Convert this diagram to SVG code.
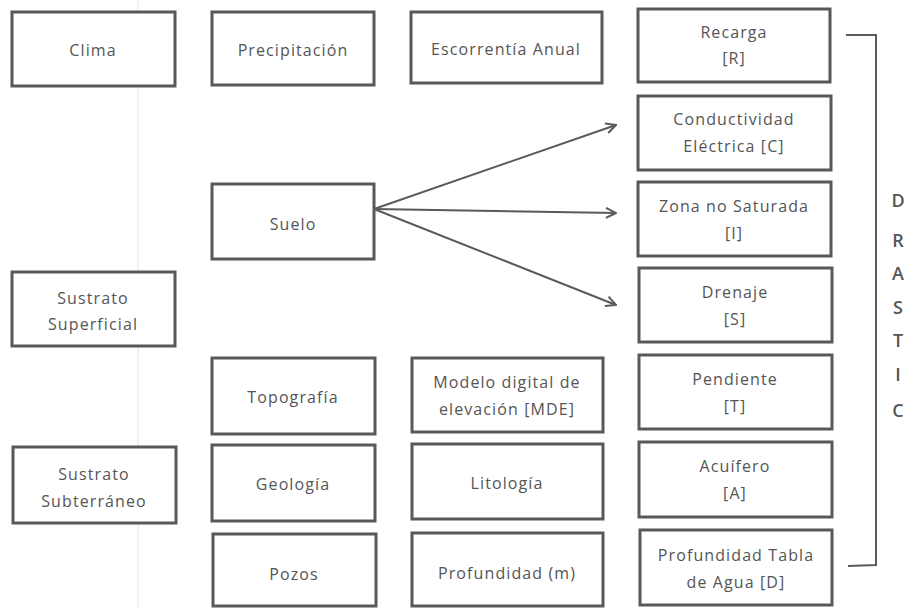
<svg xmlns="http://www.w3.org/2000/svg" width="913" height="608" viewBox="0 0 913 608">
<defs>
<style>
.box{fill:#fff;stroke:#585858;stroke-width:3}
.t{font-family:"Open Sans","Noto Sans",sans-serif;font-size:16px;fill:#555;text-anchor:middle;letter-spacing:1.1px}
.l{font-family:"Open Sans","Noto Sans",sans-serif;font-size:18px;font-weight:600;fill:#555;text-anchor:middle}
.c{fill:none;stroke:#5a5a5a;stroke-width:2}
</style>
<marker id="arr" viewBox="0 0 12 12" refX="11" refY="6" markerWidth="12" markerHeight="12" markerUnits="userSpaceOnUse" orient="auto">
<path d="M1,1 L11,6 L1,11" fill="none" stroke="#5a5a5a" stroke-width="2"/>
</marker>
</defs>
<rect width="913" height="608" fill="#fff"/>
<line x1="138" y1="0" x2="138" y2="608" stroke="#e2e2e2" stroke-width="1"/>
<g id="clima"><rect class="box" x="12" y="12" width="163" height="74"/><text class="t" x="93" y="56">Clima</text></g>
<g id="precipitacion"><rect class="box" x="212" y="12" width="162" height="73"/><text class="t" x="293" y="56">Precipitación</text></g>
<g id="escorrentia"><rect class="box" x="411" y="12" width="191" height="71"/><text class="t" x="506" y="55">Escorrentía Anual</text></g>
<g id="recarga"><rect class="box" x="638" y="9" width="192" height="73"/><text class="t" x="734" y="38">Recarga</text><text class="t" x="734" y="64">[R]</text></g>
<g id="conductividad"><rect class="box" x="638" y="96" width="193" height="74"/><text class="t" x="734" y="125">Conductividad</text><text class="t" x="734" y="152">Eléctrica [C]</text></g>
<g id="suelo"><rect class="box" x="212" y="184" width="162" height="75"/><text class="t" x="293" y="230">Suelo</text></g>
<g id="zona"><rect class="box" x="638" y="182" width="193" height="74"/><text class="t" x="734" y="212">Zona no Saturada</text><text class="t" x="734" y="239">[I]</text></g>
<g id="sustrato-superficial"><rect class="box" x="12" y="272" width="163" height="74"/><text class="t" x="93" y="304">Sustrato</text><text class="t" x="93" y="330">Superficial</text></g>
<g id="drenaje"><rect class="box" x="639" y="268" width="193" height="74"/><text class="t" x="735" y="298">Drenaje</text><text class="t" x="735" y="325">[S]</text></g>
<g id="topografia"><rect class="box" x="212" y="358" width="163" height="76"/><text class="t" x="293" y="403">Topografía</text></g>
<g id="mde"><rect class="box" x="412" y="358" width="191" height="74"/><text class="t" x="507" y="388">Modelo digital de</text><text class="t" x="507" y="415">elevación [MDE]</text></g>
<g id="pendiente"><rect class="box" x="639" y="355" width="193" height="74"/><text class="t" x="735" y="385">Pendiente</text><text class="t" x="735" y="412">[T]</text></g>
<g id="sustrato-subterraneo"><rect class="box" x="13" y="447" width="163" height="76"/><text class="t" x="94" y="480">Sustrato</text><text class="t" x="94" y="507">Subterráneo</text></g>
<g id="geologia"><rect class="box" x="212" y="445" width="163" height="76"/><text class="t" x="293" y="490">Geología</text></g>
<g id="litologia"><rect class="box" x="412" y="444" width="191" height="75"/><text class="t" x="507" y="489">Litología</text></g>
<g id="acuifero"><rect class="box" x="639" y="442" width="193" height="75"/><text class="t" x="735" y="472">Acuífero</text><text class="t" x="735" y="499">[A]</text></g>
<g id="pozos"><rect class="box" x="213" y="534" width="163" height="72"/><text class="t" x="294" y="580">Pozos</text></g>
<g id="profundidad"><rect class="box" x="412" y="533" width="191" height="73"/><text class="t" x="507" y="579">Profundidad (m)</text></g>
<g id="profundidad-tabla"><rect class="box" x="640" y="530" width="192" height="75"/><text class="t" x="736" y="561">Profundidad Tabla</text><text class="t" x="736" y="588">de Agua [D]</text></g>
<g id="drastic"><text class="l" x="898" y="207">D</text><text class="l" x="898" y="247">R</text><text class="l" x="898" y="280">A</text><text class="l" x="898" y="314">S</text><text class="l" x="898" y="347">T</text><text class="l" x="898" y="381">I</text><text class="l" x="898" y="417">C</text></g>
<g id="connectors">
<path class="c" d="M846,35 L876,35 L876,565 L848,566"/>
<line class="c" x1="374" y1="209" x2="616" y2="125" marker-end="url(#arr)"/>
<line class="c" x1="374" y1="209" x2="616" y2="213" marker-end="url(#arr)"/>
<line class="c" x1="374" y1="209" x2="616" y2="305" marker-end="url(#arr)"/>
</g>
</svg>
